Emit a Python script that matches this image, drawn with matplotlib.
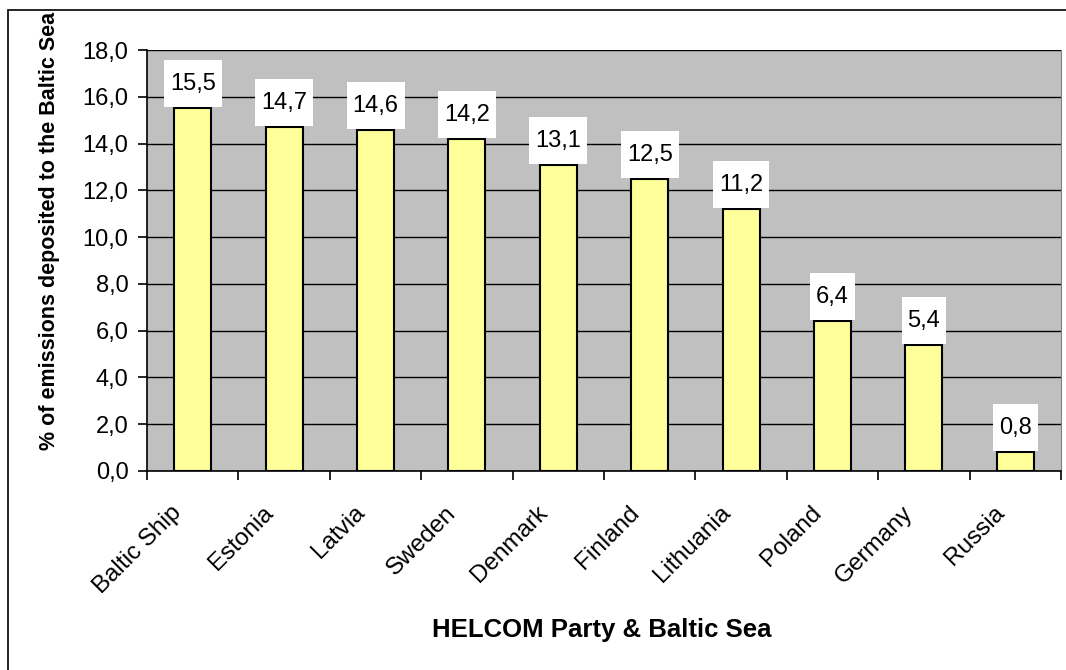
import matplotlib
matplotlib.use("Agg")
import matplotlib.pyplot as plt
import matplotlib.transforms as mtransforms
import numpy as np
from matplotlib.patches import Rectangle

# data
parties = ["Baltic Ship", "Estonia", "Latvia", "Sweden", "Denmark",
           "Finland", "Lithuania", "Poland", "Germany", "Russia"]
deposited_pct = [15.5, 14.7, 14.6, 14.2, 13.1, 12.5, 11.2, 6.4, 5.4, 0.8]
yticks = [0, 2, 4, 6, 8, 10, 12, 14, 16, 18]

plt.rcParams["font.family"] = ["Liberation Sans", "DejaVu Sans"]

fig = plt.figure(figsize=(10.66, 6.70), dpi=100)
ax = fig.add_axes([147 / 1066, 1 - 471 / 670, (1061 - 147) / 1066, (471 - 50) / 670])

# outer chart border
fig.patches.append(Rectangle((8 / 1066, -0.05), 1.2, 1 - 10 / 670 + 0.05,
                             transform=fig.transFigure, fill=False,
                             edgecolor="black", linewidth=1.2))

ax.set_facecolor("#C0C0C0")
x = np.arange(len(parties))
ax.bar(x, deposited_pct, width=0.405, color="#FFFF99", edgecolor="black",
       linewidth=1.5, zorder=3)

# value labels, drawn first so their size can be measured for the white boxes
labels = []
for xi, v in zip(x, deposited_pct):
    t = ax.annotate(f"{v:.1f}".replace(".", ","), (xi, v), xytext=(0, 24 * 0.72),
                    textcoords="offset points", ha="center", va="center",
                    fontsize=17, zorder=5)
    labels.append((t, xi, v))

ax.set_xlim(-0.5, len(parties) - 0.5)
ax.set_ylim(0, 18)
ax.set_yticks(yticks)
ax.set_yticklabels([f"{t:.1f}".replace(".", ",") for t in yticks], fontsize=17)
ax.yaxis.grid(True, color="black", linewidth=1.0, zorder=0)
ax.set_axisbelow(True)

# category labels, ticks at category boundaries
ax.set_xticks(x - 0.24)
ax.set_xticklabels(parties, rotation=45, ha="right", rotation_mode="anchor",
                   fontsize=17.5)
ax.tick_params(axis="x", which="major", length=0, pad=22)
ax.set_xticks(np.arange(-0.5, len(parties)), minor=True)
ax.tick_params(axis="x", which="minor", length=6.3, width=1.2, direction="out")
ax.tick_params(axis="y", length=6.3, width=1.2, direction="out", pad=7)

ax.spines["top"].set_visible(False)
ax.spines["right"].set_color("#808080")
ax.spines["left"].set_linewidth(1.2)
ax.spines["bottom"].set_linewidth(1.2)

fig.text(50 / 1066, 1 - 231 / 670, "% of emissions deposited to the Baltic Sea",
         rotation=90, ha="center", va="center", fontsize=15.5, fontweight="bold")
fig.text(602 / 1066, 1 - 630 / 670, "HELCOM Party & Baltic Sea",
         ha="center", va="center", fontsize=18.5, fontweight="bold")

fig.canvas.draw()
renderer = fig.canvas.get_renderer()
for t, xi, v in labels:
    bb = t.get_window_extent(renderer)
    px, py = ax.transData.transform((xi, v))
    w = bb.width + 12
    box = Rectangle((px - w / 2, py + 1), w, 47,
                    transform=mtransforms.IdentityTransform(),
                    facecolor="white", edgecolor="none", zorder=4)
    box.set_clip_on(False)
    ax.add_artist(box)

fig.savefig("out.png", dpi=100)
